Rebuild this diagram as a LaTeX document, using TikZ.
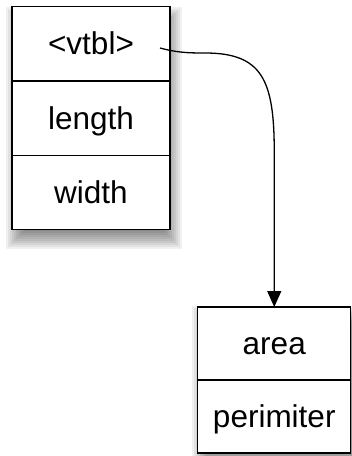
\documentclass[tikz,border=0pt]{standalone}
\usepackage{fontspec}
\setmainfont{Liberation Sans}
\usetikzlibrary{arrows.meta}
\begin{document}
\begin{tikzpicture}[x=1bp,y=-1bp,
  cell/.style={draw=black,line width=1.4bp,fill=white,inner sep=0pt,outer sep=0pt,
    font=\fontsize{31.5bp}{37bp}\selectfont,text height=22bp,text depth=0pt},
  topcell/.style={cell,minimum width=158bp,minimum height=74.33bp},
  botcell/.style={cell,minimum width=153bp,minimum height=73bp},
  link/.style={line width=1.3bp,-{Triangle[length=16bp,width=14bp]}},
  shade/.style={black,opacity=0.06}]
\useasboundingbox (0,0) rectangle (351,456);
% soft shadows
\foreach \i in {0,2,...,18}{
  \fill[shade] (6+\i,7+\i) rectangle (182-\i,249-\i);
  \fill[shade] (192+\i,306+\i) rectangle (368-\i,470-\i);
}
% top record
\node[topcell] (vtbl) at (91,43.9) {<vtbl>};
\node[topcell,anchor=north] (len) at (vtbl.south) {length};
\node[topcell,anchor=north] (wid) at (len.south) {width};
% bottom record
\node[botcell] (area) at (274.25,343.5) {area};
\node[botcell,anchor=north] (peri) at (area.south) {perimiter};
% pointer
\coordinate (s) at (160,48);
\draw[link] (s) to[out=-15,in=180] (205,53) .. controls (262,53) and (274,80) .. (274.25,150) -- (area.north);
\end{tikzpicture}
\end{document}
